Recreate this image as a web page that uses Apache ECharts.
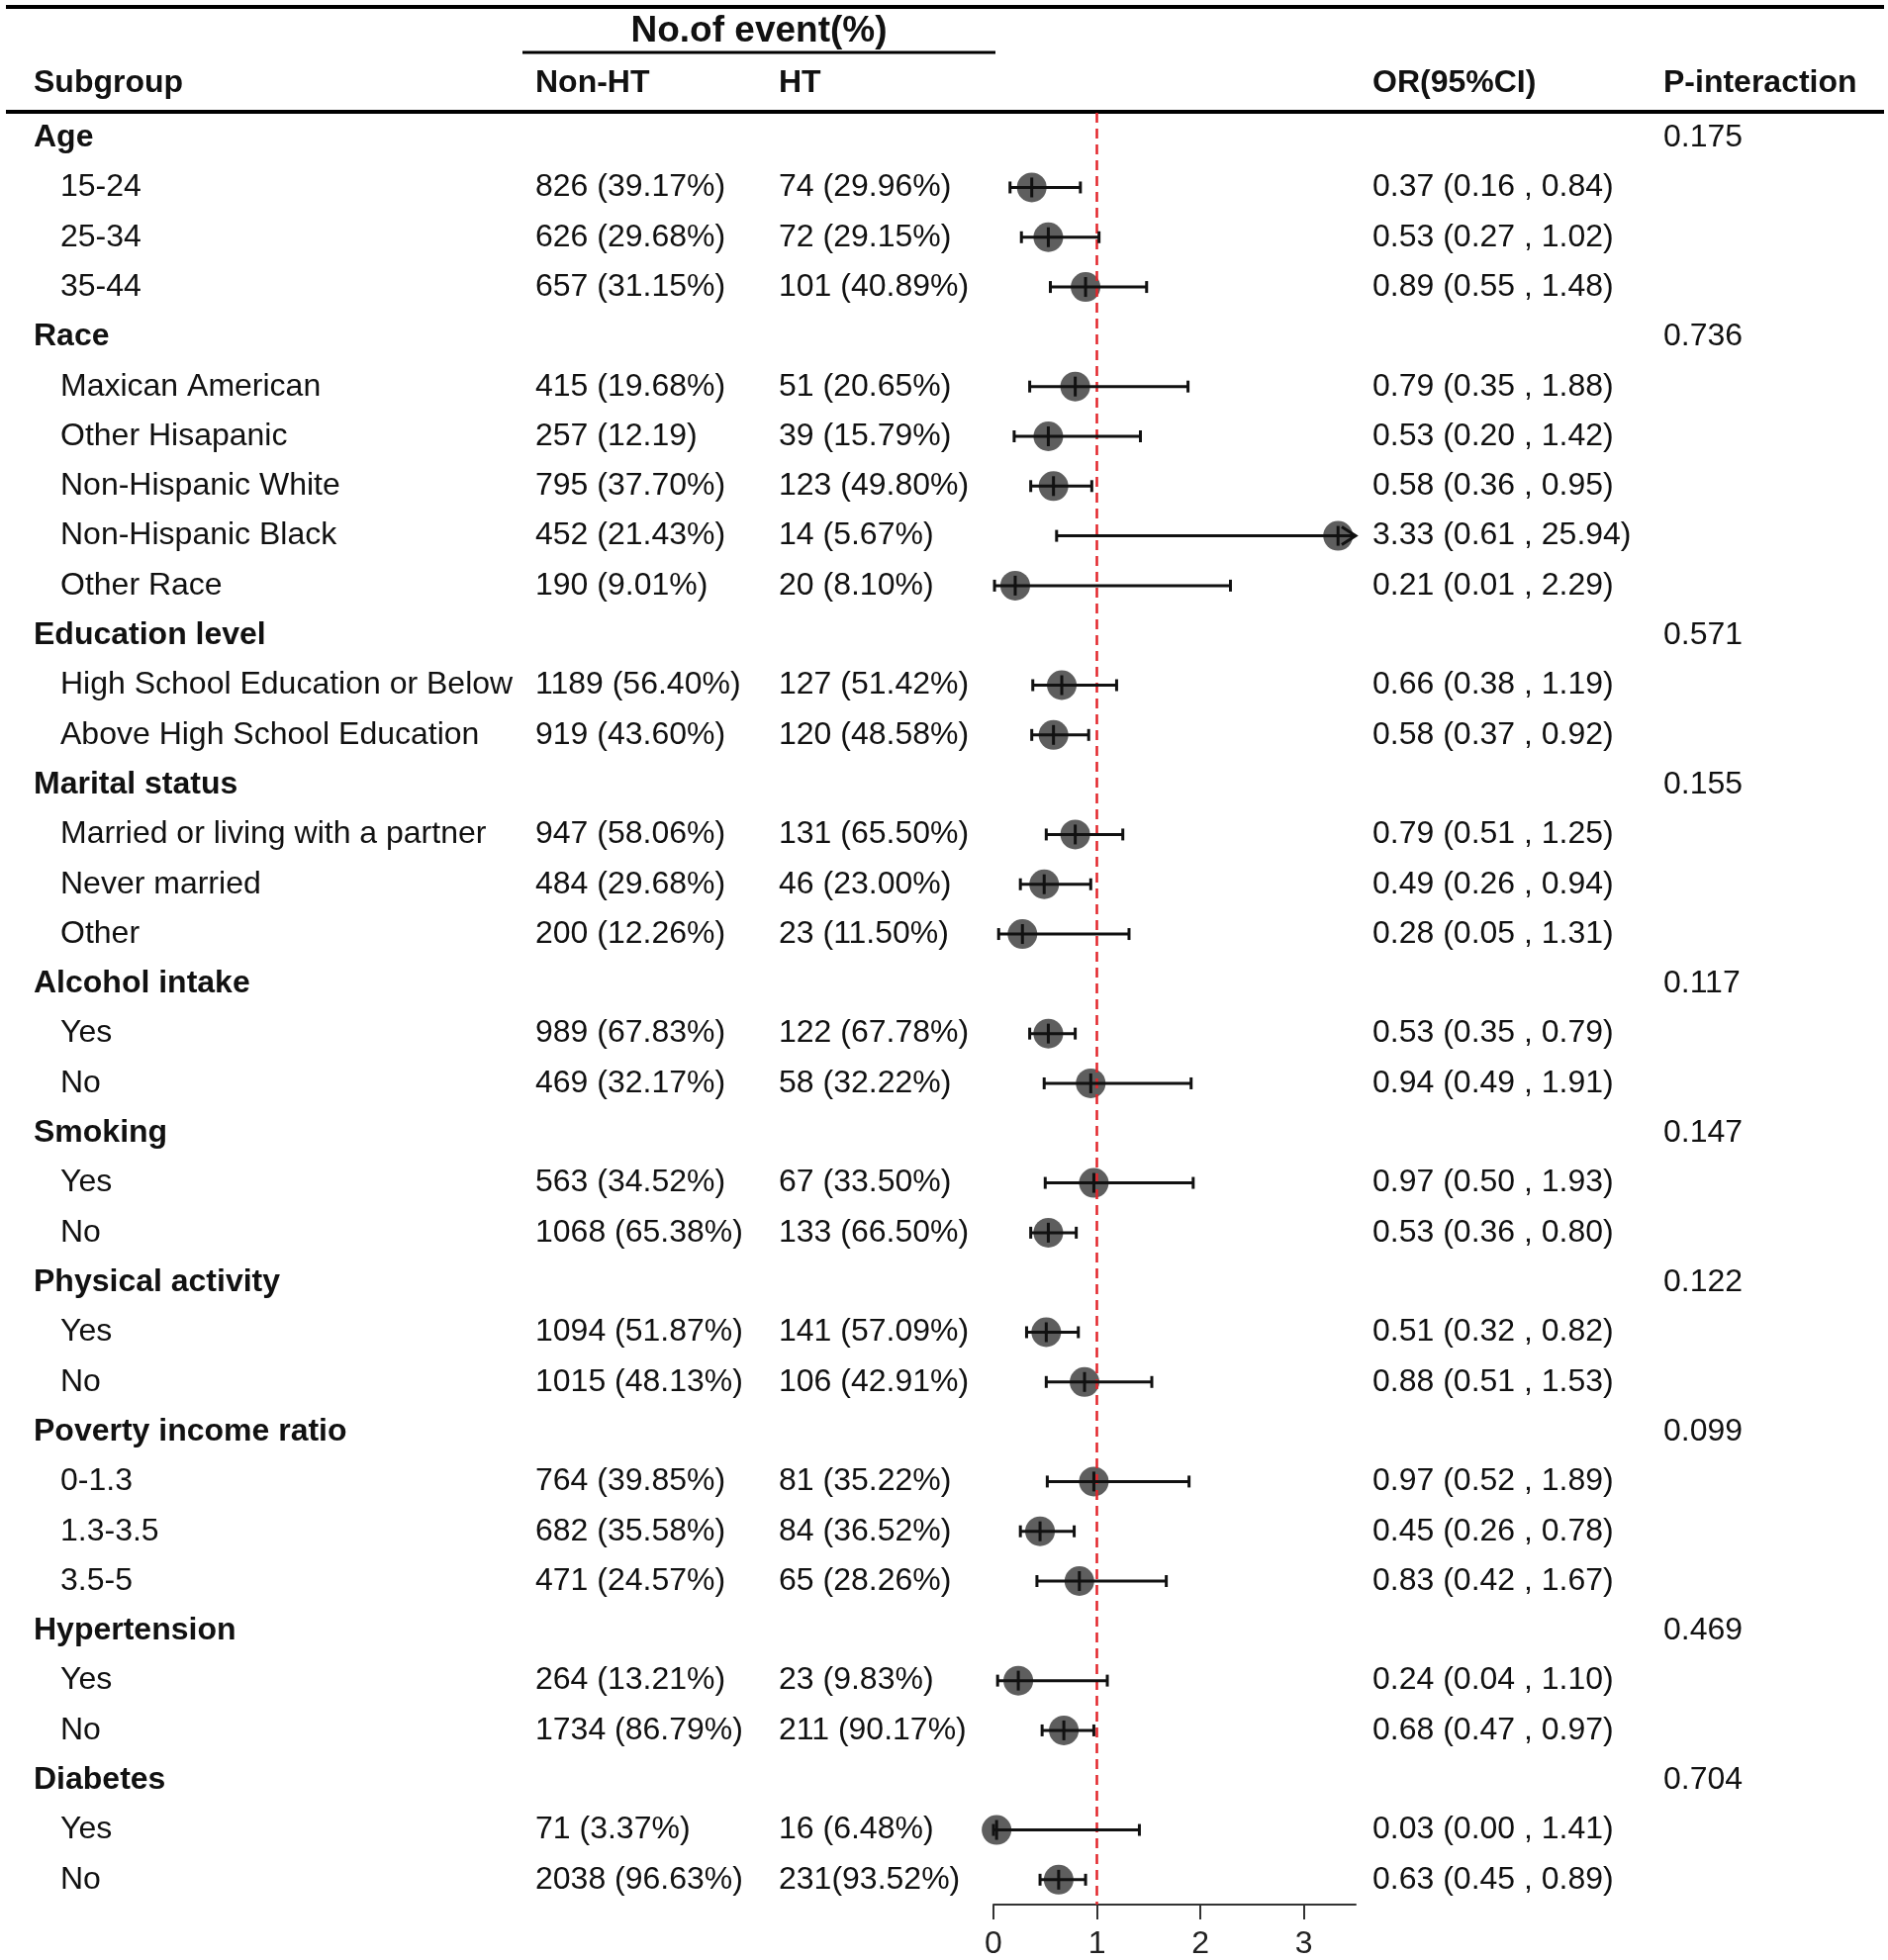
<!DOCTYPE html>
<html>
<head>
<meta charset="utf-8">
<title>Subgroup forest plot</title>
<script src="https://cdn.jsdelivr.net/npm/echarts@6/dist/echarts.min.js"></script>
<style>
  html, body { margin: 0; padding: 0; background: #fff; }
  #main { width: 1908px; height: 1981px; }
</style>
</head>
<body>
<div id="main"></div>
<script>
// rows of the table, top to bottom (group headers have no OR)
var subgroups = ['Age', '15-24', '25-34', '35-44',
  'Race', 'Maxican American', 'Other Hisapanic', 'Non-Hispanic White', 'Non-Hispanic Black', 'Other Race',
  'Education level', 'High School Education or Below', 'Above High School Education',
  'Marital status', 'Married or living with a partner', 'Never married', 'Other',
  'Alcohol intake', 'Yes', 'No',
  'Smoking', 'Yes', 'No',
  'Physical activity', 'Yes', 'No',
  'Poverty income ratio', '0-1.3', '1.3-3.5', '3.5-5',
  'Hypertension', 'Yes', 'No',
  'Diabetes', 'Yes', 'No'];

var nonHT = ['', '826 (39.17%)', '626 (29.68%)', '657 (31.15%)',
  '', '415 (19.68%)', '257 (12.19)', '795 (37.70%)', '452 (21.43%)', '190 (9.01%)',
  '', '1189 (56.40%)', '919 (43.60%)',
  '', '947 (58.06%)', '484 (29.68%)', '200 (12.26%)',
  '', '989 (67.83%)', '469 (32.17%)',
  '', '563 (34.52%)', '1068 (65.38%)',
  '', '1094 (51.87%)', '1015 (48.13%)',
  '', '764 (39.85%)', '682 (35.58%)', '471 (24.57%)',
  '', '264 (13.21%)', '1734 (86.79%)',
  '', '71 (3.37%)', '2038 (96.63%)'];

var ht = ['', '74 (29.96%)', '72 (29.15%)', '101 (40.89%)',
  '', '51 (20.65%)', '39 (15.79%)', '123 (49.80%)', '14 (5.67%)', '20 (8.10%)',
  '', '127 (51.42%)', '120 (48.58%)',
  '', '131 (65.50%)', '46 (23.00%)', '23 (11.50%)',
  '', '122 (67.78%)', '58 (32.22%)',
  '', '67 (33.50%)', '133 (66.50%)',
  '', '141 (57.09%)', '106 (42.91%)',
  '', '81 (35.22%)', '84 (36.52%)', '65 (28.26%)',
  '', '23 (9.83%)', '211 (90.17%)',
  '', '16 (6.48%)', '231(93.52%)'];

var orVal = [null, 0.37, 0.53, 0.89,
  null, 0.79, 0.53, 0.58, 3.33, 0.21,
  null, 0.66, 0.58,
  null, 0.79, 0.49, 0.28,
  null, 0.53, 0.94,
  null, 0.97, 0.53,
  null, 0.51, 0.88,
  null, 0.97, 0.45, 0.83,
  null, 0.24, 0.68,
  null, 0.03, 0.63];

var orLow = [null, 0.16, 0.27, 0.55,
  null, 0.35, 0.20, 0.36, 0.61, 0.01,
  null, 0.38, 0.37,
  null, 0.51, 0.26, 0.05,
  null, 0.35, 0.49,
  null, 0.50, 0.36,
  null, 0.32, 0.51,
  null, 0.52, 0.26, 0.42,
  null, 0.04, 0.47,
  null, 0.00, 0.45];

var orHigh = [null, 0.84, 1.02, 1.48,
  null, 1.88, 1.42, 0.95, 25.94, 2.29,
  null, 1.19, 0.92,
  null, 1.25, 0.94, 1.31,
  null, 0.79, 1.91,
  null, 1.93, 0.80,
  null, 0.82, 1.53,
  null, 1.89, 0.78, 1.67,
  null, 1.10, 0.97,
  null, 1.41, 0.89];

var pInteraction = ['0.175', '', '', '',
  '0.736', '', '', '', '', '',
  '0.571', '', '',
  '0.155', '', '', '',
  '0.117', '', '',
  '0.147', '', '',
  '0.122', '', '',
  '0.099', '', '', '',
  '0.469', '', '',
  '0.704', '', ''];

var xTicks = [0, 1, 2, 3];
var xMax = 3.5;
var refValue = 1;

var FONT = "'Liberation Sans', Arial, Helvetica, sans-serif";
var FS = 32;

function isHeader(i) { return orVal[i] === null; }
function fmt(v) { return v.toFixed(2); }

var orText = subgroups.map(function (s, i) {
  if (isHeader(i)) return '';
  return fmt(orVal[i]) + ' (' + fmt(orLow[i]) + ' , ' + fmt(orHigh[i]) + ')';
});

var rowKeys = subgroups.map(function (s, i) { return 'r' + i; });

var pointData = [];
var barData = [];
subgroups.forEach(function (s, i) {
  if (isHeader(i)) return;
  pointData.push([orVal[i], i]);
  barData.push([orVal[i], i, orLow[i], orHigh[i]]);
});

var gridLeft = 1004, gridRight = 538, gridTop = 114, gridHeight = 1814;

function textAxis(position, offset, getText, rich) {
  return {
    type: 'category',
    data: rowKeys,
    inverse: true,
    position: position,
    offset: offset,
    axisLine: { show: false },
    axisTick: { show: false },
    splitLine: { show: false },
    axisLabel: {
      interval: 0,
      margin: 0,
      align: 'left',
      fontSize: FS,
      fontFamily: FONT,
      color: '#111',
      formatter: function (v, idx) { return getText(idx); },
      rich: rich
    }
  };
}

var yAxes = [
  textAxis('left', gridLeft - 34, function (i) {
    return isHeader(i) ? '{h|' + subgroups[i] + '}' : '{i|' + subgroups[i] + '}';
  }, {
    h: { fontWeight: 'bold', fontSize: FS, fontFamily: FONT, color: '#111' },
    i: { fontSize: FS, fontFamily: FONT, color: '#111', padding: [0, 0, 0, 27] }
  }),
  textAxis('left', gridLeft - 541, function (i) { return nonHT[i]; }),
  textAxis('left', gridLeft - 787, function (i) { return ht[i]; }),
  textAxis('right', 1387 - (1908 - gridRight), function (i) { return orText[i]; }),
  textAxis('right', 1681 - (1908 - gridRight), function (i) { return pInteraction[i]; })
];

function head(x, y, text, size) {
  return { type: 'text', x: x, y: y, style: { text: text, font: 'bold ' + size + 'px ' + FONT, fill: '#111', verticalAlign: 'middle' } };
}

var chart = echarts.init(document.getElementById('main'));
var option = {
  animation: false,
  backgroundColor: '#fff',
  grid: { left: gridLeft, right: gridRight, top: gridTop, height: gridHeight, containLabel: false },
  xAxis: {
    type: 'value',
    min: 0,
    max: xMax,
    interval: 1,
    splitLine: { show: false },
    axisLine: { show: true, lineStyle: { color: '#333', width: 2 } },
    axisTick: { show: true, length: 15, lineStyle: { color: '#333', width: 2 }, customValues: xTicks },
    axisLabel: { fontSize: FS, fontFamily: FONT, color: '#222', margin: 24, customValues: xTicks }
  },
  yAxis: yAxes,
  graphic: [
    { type: 'line', shape: { x1: 6, y1: 7, x2: 1904, y2: 7 }, style: { stroke: '#000', lineWidth: 4 } },
    { type: 'text', x: 767, y: 32, style: { text: 'No.of event(%)', font: 'bold 37px ' + FONT, fill: '#111', align: 'center', verticalAlign: 'middle' } },
    { type: 'line', shape: { x1: 528, y1: 53, x2: 1006, y2: 53 }, style: { stroke: '#000', lineWidth: 3 } },
    head(34, 84, 'Subgroup', FS),
    head(541, 84, 'Non-HT', FS),
    head(787, 84, 'HT', FS),
    head(1387, 84, 'OR(95%CI)', FS),
    head(1681, 84, 'P-interaction', FS),
    { type: 'line', shape: { x1: 6, y1: 113, x2: 1904, y2: 113 }, style: { stroke: '#000', lineWidth: 4 } }
  ],
  series: [
    {
      type: 'scatter',
      yAxisIndex: 0,
      data: pointData,
      symbol: 'circle',
      symbolSize: 30,
      itemStyle: { color: '#505050', opacity: 0.92 },
      z: 2,
      silent: true,
      markLine: {
        silent: true,
        z: 3,
        symbol: 'none',
        label: { show: false },
        lineStyle: { color: '#e3262b', width: 2.5, type: [10, 6] },
        data: [{ xAxis: refValue }]
      }
    },
    {
      type: 'custom',
      yAxisIndex: 0,
      data: barData,
      encode: { x: 0, y: 1 },
      z: 4,
      silent: true,
      renderItem: function (params, api) {
        var est = api.value(0), row = api.value(1), lo = api.value(2), hi = api.value(3);
        var clipped = hi > xMax;
        var pLo = api.coord([lo, row]);
        var pHi = api.coord([clipped ? xMax : hi, row]);
        var pEst = api.coord([est, row]);
        var stroke = { stroke: '#111', lineWidth: 3 };
        var kids = [
          { type: 'line', shape: { x1: pLo[0], y1: pLo[1], x2: pHi[0], y2: pHi[1] }, style: stroke },
          { type: 'line', shape: { x1: pLo[0], y1: pLo[1] - 6, x2: pLo[0], y2: pLo[1] + 6 }, style: stroke },
          { type: 'line', shape: { x1: pEst[0], y1: pEst[1] - 10, x2: pEst[0], y2: pEst[1] + 10 }, style: stroke }
        ];
        if (clipped) {
          kids.push({ type: 'polyline', shape: { points: [[pHi[0] - 14, pHi[1] - 9], [pHi[0], pHi[1]], [pHi[0] - 14, pHi[1] + 9]] }, style: { stroke: '#111', lineWidth: 3, fill: null } });
        } else {
          kids.push({ type: 'line', shape: { x1: pHi[0], y1: pHi[1] - 6, x2: pHi[0], y2: pHi[1] + 6 }, style: stroke });
        }
        return { type: 'group', children: kids };
      }
    }
  ]
};
chart.setOption(option);
</script>
</body>
</html>
